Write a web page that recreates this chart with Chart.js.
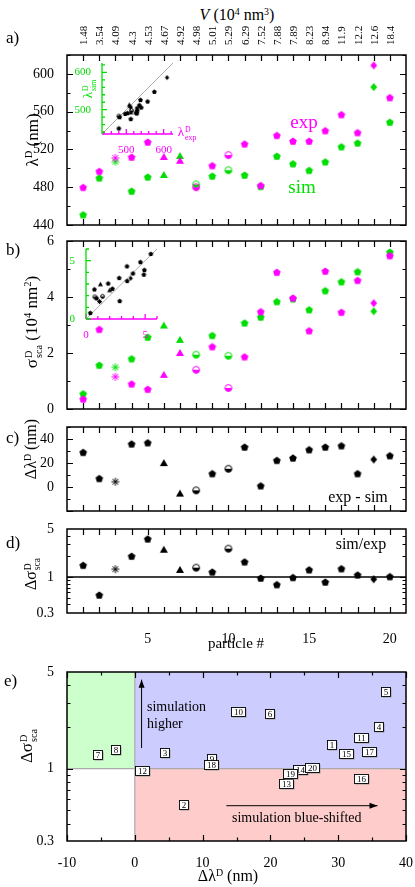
<!DOCTYPE html>
<html>
<head>
<meta charset="utf-8">
<script src="https://cdn.jsdelivr.net/npm/chart.js@4.4.0/dist/chart.umd.min.js"></script>
<style>
body{margin:0;background:#fff}
#wrap{position:relative;width:415px;height:887px;font-family:"Liberation Serif",serif;color:#000;overflow:hidden}
canvas{position:absolute}
.t{position:absolute;white-space:nowrap;line-height:1}
.r{transform:translate(-50%,-50%) rotate(-90deg)}
.c{transform:translate(-50%,-50%)}
.l{transform:translate(0,-50%)}
.v{transform-origin:0 0;transform:rotate(-90deg) translateY(-50%);font-size:11px}
sup{font-size:.62em;vertical-align:.55em;line-height:0}
.ss{display:inline-block;font-size:.6em;line-height:.95;vertical-align:-.45em;text-align:left;margin-left:1px}
</style>
</head>
<body>
<div id="wrap">
  <canvas id="ca"></canvas>
  <canvas id="cb"></canvas>
  <canvas id="cc"></canvas>
  <canvas id="cd"></canvas>
  <canvas id="ce"></canvas>
  <canvas id="ia"></canvas>
  <canvas id="ib"></canvas>

  <div class="t c" style="left:237px;top:15px;font-size:16px"><i>V</i> (10<sup>4</sup> nm<sup>3</sup>)</div>
  <div class="t" style="left:6px;top:29px;font-size:17px">a)</div>
  <div class="t" style="left:6px;top:241px;font-size:17px">b)</div>
  <div class="t" style="left:6px;top:429px;font-size:17px">c)</div>
  <div class="t" style="left:6px;top:534px;font-size:17px">d)</div>
  <div class="t" style="left:4px;top:672px;font-size:17px">e)</div>

  <div class="t r" style="left:32px;top:140px;font-size:17px">λ<sup>D</sup> (nm)</div>
  <div class="t r" style="left:33px;top:322px;font-size:17px">σ<span class="ss">D<br>sca</span> (10<sup>4</sup> nm<sup>2</sup>)</div>
  <div class="t r" style="left:31px;top:449px;font-size:16px">Δλ<sup>D</sup> (nm)</div>
  <div class="t r" style="left:32px;top:574px;font-size:16px">Δσ<span class="ss">D<br>sca</span></div>
  <div class="t r" style="left:28px;top:746px;font-size:17px">Δσ<span class="ss">D<br>sca</span></div>
  <div class="t c" style="left:236px;top:643px;font-size:15px">particle #</div>
  <div class="t c" style="left:228px;top:876px;font-size:16px">Δλ<sup>D</sup> (nm)</div>

  <div class="t c" style="left:304px;top:121px;font-size:19px;color:#ff00ff">exp</div>
  <div class="t c" style="left:302px;top:186px;font-size:19px;color:#00dd00">sim</div>
  <div class="t r" style="left:89px;top:89px;font-size:13px;color:#00dd00">λ<span class="ss">D<br>sim</span></div>
  <div class="t c" style="left:187px;top:133px;font-size:13px;color:#ff00ff">λ<span class="ss">D<br>exp</span></div>
  <div class="t c" style="left:358px;top:497px;font-size:16px">exp - sim</div>
  <div class="t c" style="left:361px;top:544px;font-size:16px">sim/exp</div>
  <div class="t l" style="left:147px;top:707px;font-size:14px">simulation</div>
  <div class="t l" style="left:147px;top:724px;font-size:14px">higher</div>
  <div class="t l" style="left:232px;top:818px;font-size:14px">simulation blue-shifted</div>
</div>

<script>
const MAG = '#ff00ff';
const GRN = '#00dd00';

const particles = [1, 2, 3, 4, 5, 6, 7, 8, 9, 10, 11, 12, 13, 14, 15, 16, 17, 18, 19, 20];
const volumes = ['1.48', '3.54', '4.09', '4.3', '4.53', '4.67', '4.92', '4.98', '5.01', '5.29',
  '6.29', '7.52', '7.88', '7.89', '8.23', '8.94', '11.9', '12.2', '12.6', '18.4'];
const shapes = ['pent', 'pent', 'ast', 'pent', 'pent', 'tri', 'tri', 'half', 'pent', 'half',
  'pent', 'pent', 'pent', 'pent', 'pent', 'pent', 'pent', 'pent', 'diam', 'pent'];

// resonance wavelength (nm)
const lambdaExp = [480, 497, 511, 512, 528, 512, 508, 480, 503, 514, 526, 482, 535, 529, 529, 540, 557, 538, 609, 575];
const lambdaSim = [451, 490, 507, 476, 491, 493, 513, 483, 492, 498, 493, 481, 513, 505, 498, 507, 523, 527, 586, 549];
// scattering cross section (10^4 nm^2)
const sigmaExp = [0.36, 2.85, 1.15, 0.90, 0.71, 1.22, 2.00, 1.40, 2.23, 0.75, 1.87, 3.48, 4.89, 3.97, 2.80, 4.93, 3.46, 4.60, 3.78, 5.48];
const sigmaSim = [0.55, 1.57, 1.49, 1.80, 2.57, 2.98, 2.47, 1.94, 2.63, 1.90, 3.08, 3.29, 3.84, 3.94, 3.55, 4.23, 4.55, 4.91, 3.49, 5.61];
// exp - sim (nm) and sim/exp
const dLambda = [29, 7.2, 4.4, 36, 37, 19.9, -5.5, -2.8, 11.3, 15.2, 33.4, 1.1, 22.3, 24.3, 31.2, 33.4, 34.5, 11.3, 22.9, 26.2];
const ratio = [1.49, 0.55, 1.30, 2.02, 3.6, 2.5, 1.27, 1.37, 1.19, 2.59, 1.67, 0.97, 0.78, 0.99, 1.28, 0.85, 1.33, 1.08, 0.93, 1.02];

Chart.defaults.font.family = '"Liberation Serif", serif';
Chart.defaults.color = '#000';

function range(a, b, s) {
  const out = [];
  for (let v = a; v <= b + 1e-9; v += s) out.push(+v.toFixed(6));
  return out;
}
const fixed = vals => s => { s.ticks = vals.map(v => ({value: v})); };

// little canvas markers, used as pointStyle
function marker(shape, color, s) {
  const c = document.createElement('canvas');
  c.width = c.height = s + 2;
  const g = c.getContext('2d');
  const m = (s + 2) / 2, r = s / 2;
  g.fillStyle = color;
  g.strokeStyle = color;
  g.lineWidth = 1;
  g.beginPath();
  if (shape === 'pent') {
    for (let k = 0; k < 5; k++) {
      const a = -Math.PI / 2 + k * 2 * Math.PI / 5;
      g.lineTo(m + r * Math.cos(a), m + 0.6 + r * Math.sin(a));
    }
    g.closePath(); g.fill();
  } else if (shape === 'tri') {
    g.moveTo(m, m - r);
    g.lineTo(m + r, m + r * 0.75);
    g.lineTo(m - r, m + r * 0.75);
    g.closePath(); g.fill();
  } else if (shape === 'diam') {
    g.moveTo(m, m - r);
    g.lineTo(m + r * 0.85, m);
    g.lineTo(m, m + r);
    g.lineTo(m - r * 0.85, m);
    g.closePath(); g.fill();
  } else if (shape === 'half') {
    g.arc(m, m, r - 0.6, 0, Math.PI * 2);
    g.stroke();
    g.beginPath();
    g.arc(m, m, r - 0.6, 0, Math.PI);
    g.closePath(); g.fill();
  } else if (shape === 'ast') {
    for (let k = 0; k < 4; k++) {
      const a = k * Math.PI / 4;
      g.moveTo(m - r * Math.cos(a), m - r * Math.sin(a));
      g.lineTo(m + r * Math.cos(a), m + r * Math.sin(a));
    }
    g.stroke();
  }
  return c;
}
const styles = (color, s) => shapes.map(sh => marker(sh, color, s));
const pts = (xs, ys) => xs.map((x, i) => ({x: x, y: ys[i]}));

// frame with inward ticks on all four sides
const frame = {
  id: 'frame',
  afterDraw(chart, args, o) {
    if (!o.on) return;
    const {ctx, chartArea: a, scales: {x, y}} = chart;
    ctx.save();
    ctx.strokeStyle = '#000';
    ctx.lineWidth = 1.2;
    ctx.beginPath();
    const tx = (vals, len) => vals.forEach(v => {
      const p = Math.round(x.getPixelForValue(v)) + 0.5;
      ctx.moveTo(p, a.bottom); ctx.lineTo(p, a.bottom - len);
      ctx.moveTo(p, a.top); ctx.lineTo(p, a.top + len);
    });
    const ty = (vals, len) => vals.forEach(v => {
      const p = Math.round(y.getPixelForValue(v)) + 0.5;
      ctx.moveTo(a.left, p); ctx.lineTo(a.left + len, p);
      ctx.moveTo(a.right, p); ctx.lineTo(a.right - len, p);
    });
    tx(o.xMaj || [], 6); tx(o.xMin || [], 3.5);
    ty(o.yMaj || [], 6); ty(o.yMin || [], 3.5);
    ctx.stroke();
    ctx.lineWidth = 1.5;
    ctx.strokeRect(a.left, a.top, a.right - a.left, a.bottom - a.top);
    ctx.restore();
  }
};

// coloured L-shaped axes of the insets
const insetAxes = {
  id: 'insetAxes',
  afterDraw(chart, args, o) {
    if (!o.on) return;
    const {ctx, chartArea: a, scales: {x, y}} = chart;
    ctx.save();
    ctx.lineWidth = 1.3;
    ctx.strokeStyle = MAG;
    ctx.beginPath();
    ctx.moveTo(a.left, a.bottom); ctx.lineTo(a.right, a.bottom);
    o.ticks.forEach(v => {
      const p = x.getPixelForValue(v);
      const len = o.major.includes(v) ? 5 : 3;
      ctx.moveTo(p, a.bottom); ctx.lineTo(p, a.bottom - len);
    });
    ctx.stroke();
    ctx.strokeStyle = GRN;
    ctx.beginPath();
    ctx.moveTo(a.left, a.bottom); ctx.lineTo(a.left, a.top);
    o.ticks.forEach(v => {
      const p = y.getPixelForValue(v);
      const len = o.major.includes(v) ? 5 : 3;
      ctx.moveTo(a.left, p); ctx.lineTo(a.left + len, p);
    });
    ctx.stroke();
    ctx.restore();
  }
};

// coloured quadrants, guide lines, arrows and numbered boxes of panel e
const quadrants = {
  id: 'quadrants',
  beforeDatasetsDraw(chart, args, o) {
    if (!o.on) return;
    const {ctx, chartArea: a, scales: {x, y}} = chart;
    const x0 = x.getPixelForValue(0), y1 = y.getPixelForValue(1);
    ctx.save();
    ctx.fillStyle = '#ccffcc';
    ctx.fillRect(a.left, a.top, x0 - a.left, y1 - a.top);
    ctx.fillStyle = '#ccccff';
    ctx.fillRect(x0, a.top, a.right - x0, y1 - a.top);
    ctx.fillStyle = '#ffcccc';
    ctx.fillRect(x0, y1, a.right - x0, a.bottom - y1);
    ctx.strokeStyle = '#aaaaaa';
    ctx.lineWidth = 1.2;
    ctx.beginPath();
    ctx.moveTo(x0, a.top); ctx.lineTo(x0, a.bottom);
    ctx.moveTo(a.left, y1); ctx.lineTo(a.right, y1);
    ctx.stroke();
    ctx.strokeStyle = '#000';
    ctx.fillStyle = '#000';
    ctx.lineWidth = 1;
    o.arrows.forEach(([xa, ya, xb, yb]) => {
      const p1 = [x.getPixelForValue(xa), y.getPixelForValue(ya)];
      const p2 = [x.getPixelForValue(xb), y.getPixelForValue(yb)];
      const ang = Math.atan2(p2[1] - p1[1], p2[0] - p1[0]);
      ctx.beginPath();
      ctx.moveTo(p1[0], p1[1]); ctx.lineTo(p2[0], p2[1]);
      ctx.stroke();
      ctx.beginPath();
      ctx.moveTo(p2[0], p2[1]);
      ctx.lineTo(p2[0] - 8 * Math.cos(ang) + 3 * Math.sin(ang), p2[1] - 8 * Math.sin(ang) - 3 * Math.cos(ang));
      ctx.lineTo(p2[0] - 8 * Math.cos(ang) - 3 * Math.sin(ang), p2[1] - 8 * Math.sin(ang) + 3 * Math.cos(ang));
      ctx.closePath(); ctx.fill();
    });
    ctx.restore();
  },
  afterDatasetsDraw(chart, args, o) {
    if (!o.on) return;
    const ctx = chart.ctx;
    const meta = chart.getDatasetMeta(0);
    ctx.save();
    ctx.font = '9px "Liberation Serif"';
    ctx.textAlign = 'center';
    ctx.textBaseline = 'middle';
    meta.data.forEach((el, i) => {
      const t = String(particles[i]);
      const w = t.length > 1 ? 14 : 9, h = 9;
      const bx = Math.round(el.x - w / 2) + 0.5, by = Math.round(el.y - h / 2) + 0.5;
      ctx.fillStyle = '#999';
      ctx.fillRect(bx + 1, by + 1, w, h);
      ctx.fillStyle = '#fff';
      ctx.fillRect(bx, by, w, h);
      ctx.strokeStyle = '#000';
      ctx.lineWidth = 0.9;
      ctx.strokeRect(bx, by, w, h);
      ctx.fillStyle = '#000';
      ctx.fillText(t, bx + w / 2, by + h / 2 + 0.5);
    });
    ctx.restore();
  }
};

Chart.register(frame, insetAxes, quadrants);

const noGrid = {grid: {display: false}, border: {display: false}};
const M = 30;

// area = chart area in page pixels, yw = room for the y tick labels
function makeChart(id, area, yw, datasets, xOpt, yOpt, plugins) {
  const box = {x: area.l - yw, y: area.t - M, w: area.r - area.l + yw + M, h: area.b - area.t + 2 * M};
  const cv = document.getElementById(id);
  cv.width = box.w; cv.height = box.h;
  cv.style.left = box.x + 'px'; cv.style.top = box.y + 'px';
  cv.style.width = box.w + 'px'; cv.style.height = box.h + 'px';
  const chart = new Chart(cv, {
    type: 'scatter',
    data: {datasets: datasets},
    options: {
      responsive: false,
      animation: false,
      events: [],
      layout: {padding: {left: 0, bottom: 0, right: M, top: M}},
      scales: {
        x: Object.assign({type: 'linear', position: 'bottom'}, noGrid, xOpt,
          {afterFit: s => { s.height = M; }}),
        y: Object.assign({type: 'linear', position: 'left'}, noGrid, yOpt,
          {afterFit: s => { s.width = yw; }})
      },
      plugins: Object.assign({legend: {display: false}, tooltip: {enabled: false}}, plugins)
    }
  });
  chart.box = box;
  return chart;
}

const tickFont = {size: 14};
const xParticles = {min: 0, max: 21, ticks: {display: false}};
const xFrame = {xMaj: particles};

// a) resonance wavelength
const chartA = makeChart('ca', {l: 67, t: 55, r: 406, b: 225}, 67, [
  {data: pts(particles, lambdaExp), pointStyle: styles(MAG, 8), pointRadius: 4},
  {data: pts(particles, lambdaSim), pointStyle: styles(GRN, 8), pointRadius: 4}
], xParticles,
{min: 440, max: 620, afterBuildTicks: fixed(range(440, 600, 40)), ticks: {padding: 5, font: tickFont}},
{frame: Object.assign({on: true, yMaj: range(440, 600, 40), yMin: range(460, 620, 40)}, xFrame)});

// top axis: particle volume
const wrap = document.getElementById('wrap');
particles.forEach((p, i) => {
  const d = document.createElement('div');
  d.className = 't v';
  d.style.left = (chartA.box.x + chartA.scales.x.getPixelForValue(p)) + 'px';
  d.style.top = '45px';
  d.textContent = volumes[i];
  wrap.appendChild(d);
});

// b) scattering cross section
makeChart('cb', {l: 67, t: 241, r: 406, b: 409}, 67, [
  {data: pts(particles, sigmaExp), pointStyle: styles(MAG, 8), pointRadius: 4},
  {data: pts(particles, sigmaSim), pointStyle: styles(GRN, 8), pointRadius: 4}
], xParticles,
{min: 0, max: 6, afterBuildTicks: fixed(range(0, 6, 2)), ticks: {padding: 5, font: tickFont}},
{frame: Object.assign({on: true, yMaj: range(0, 6, 2), yMin: range(1, 5, 2)}, xFrame)});

// c) exp - sim
makeChart('cc', {l: 67, t: 427, r: 406, b: 511}, 67, [
  {data: pts(particles, dLambda), pointStyle: styles('#000', 8), pointRadius: 4}
], xParticles,
{min: -20, max: 50, afterBuildTicks: fixed([0, 20, 40]), ticks: {padding: 5, font: tickFont}},
{frame: Object.assign({on: true, yMaj: range(-20, 40, 20), yMin: range(-10, 50, 20)}, xFrame)});

// d) sim / exp
const logMinor = [0.4, 0.5, 0.6, 0.7, 0.8, 0.9, 2, 3, 4];
const logY = {type: 'logarithmic', min: 0.3, max: 5, afterBuildTicks: fixed([0.3, 1, 5]),
  ticks: {padding: 5, font: tickFont, callback: v => String(v)}};
makeChart('cd', {l: 67, t: 529, r: 406, b: 613}, 67, [
  {data: pts(particles, ratio), pointStyle: styles('#000', 8), pointRadius: 4},
  {data: [{x: 0, y: 1}, {x: 21, y: 1}], showLine: true, pointRadius: 0, borderColor: '#000', borderWidth: 1.6}
], {min: 0, max: 21, afterBuildTicks: fixed([5, 10, 15, 20]), ticks: {padding: 10, font: tickFont}},
logY,
{frame: Object.assign({on: true, yMaj: [1], yMin: logMinor}, xFrame)});

// e) sim/exp against exp - sim
makeChart('ce', {l: 67, t: 672, r: 406, b: 841}, 67, [
  {data: pts(dLambda, ratio), pointRadius: 0}
], {min: -10, max: 40, afterBuildTicks: fixed(range(-10, 40, 10)), ticks: {padding: 6, font: tickFont}},
logY,
{frame: {on: true, xMaj: range(-10, 40, 10), xMin: range(-5, 35, 10), yMaj: [1], yMin: logMinor},
 quadrants: {on: true, arrows: [[1, 1.41, 1, 4.4], [13.5, 0.54, 35.8, 0.54]]}});

// insets: sim against exp
makeChart('ia', {l: 102, t: 63, r: 173, b: 134}, 32, [
  {data: pts(lambdaExp, lambdaSim), pointStyle: styles('#000', 5), pointRadius: 3},
  {data: [{x: 435, y: 435}, {x: 625, y: 625}], showLine: true, pointRadius: 0, borderColor: '#999', borderWidth: 0.8}
], {min: 435, max: 625, afterBuildTicks: fixed([500, 600]), ticks: {padding: 2, color: MAG, font: {size: 11}}},
{min: 435, max: 625, afterBuildTicks: fixed([500, 600]), ticks: {padding: 3, color: GRN, font: {size: 11}}},
{insetAxes: {on: true, ticks: range(440, 620, 20), major: [500, 600]}});

makeChart('ib', {l: 86, t: 249, r: 157, b: 319}, 31, [
  {data: pts(sigmaExp, sigmaSim), pointStyle: styles('#000', 5), pointRadius: 3},
  {data: [{x: 0, y: 0}, {x: 6, y: 6}], showLine: true, pointRadius: 0, borderColor: '#999', borderWidth: 0.8}
], {min: 0, max: 6, afterBuildTicks: fixed([0, 5]), ticks: {padding: 2, color: MAG, font: {size: 11}}},
{min: 0, max: 6, afterBuildTicks: fixed([0, 5]), ticks: {padding: 3, color: GRN, font: {size: 11}}},
{insetAxes: {on: true, ticks: range(0, 6, 1), major: [0, 5]}});
</script>
</body>
</html>
